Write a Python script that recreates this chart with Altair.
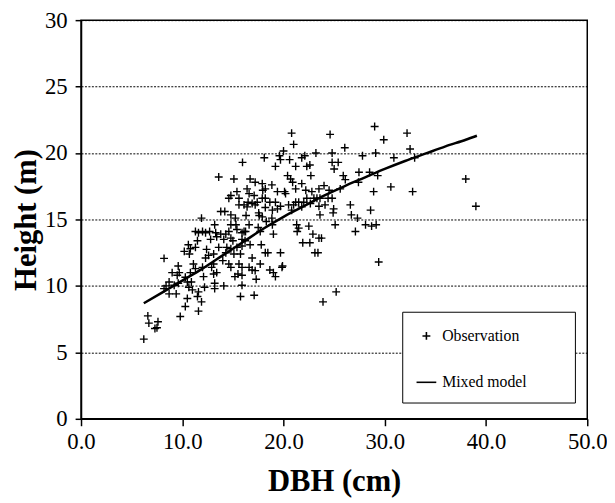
import altair as alt
import pandas as pd

# ---------------- data ----------------
obs_dbh = [
    6.2, 6.6, 6.7, 7.3, 7.6, 7.5, 8.2, 8.4, 8.7, 9.0, 9.5, 9.6, 9.4, 9.8, 9.6, 10.2, 10.3, 10.5, 10.6, 10.7,
    10.9, 10.8, 11.1, 11.3, 11.5, 11.5, 11.6, 11.9, 11.9, 12.0, 12.1, 12.2, 12.3, 12.4, 12.7, 12.9, 13.1, 13.2, 13.2, 13.4,
    13.2, 13.6, 13.8, 13.6, 14.0, 14.1, 14.2, 14.3, 14.4, 14.6, 14.6, 14.8, 14.8, 15.0, 15.1, 15.2, 15.1, 15.25, 15.4, 15.5,
    15.6, 15.75, 15.75, 15.9, 15.95, 16.1, 16.25, 16.3, 16.4, 16.5, 16.7, 16.7, 16.9, 16.9, 17.1, 17.1, 17.2, 17.3, 17.5, 17.6,
    17.7, 17.8, 17.95, 18.1, 18.2, 18.3, 18.45, 18.65, 18.65, 18.85, 18.85, 19.0, 19.2, 19.2, 19.4, 19.4, 19.6, 19.7, 19.9, 20.0,
    20.1, 20.4, 20.6, 20.8, 20.9, 21.0, 21.2, 21.3, 21.35, 21.5, 21.8, 21.9, 22.0, 22.1, 22.3, 22.5, 22.6, 22.7, 22.8, 22.9,
    23.1, 23.2, 23.3, 23.5, 23.6, 23.75, 23.9, 24.0, 24.4, 24.6, 24.8, 24.9, 25.0, 25.1, 25.2, 25.4, 25.6, 25.9, 26.05, 26.6,
    26.7, 27.1, 27.3, 27.45, 27.8, 28.1, 28.5, 28.6, 28.9, 29.0, 29.1, 29.15, 29.3, 29.4, 29.9, 30.6, 30.9, 32.2, 32.5, 32.75,
    32.95, 38.0, 39.0,
    14.8, 14.8, 15.3,
    19.7, 21.8, 22.6, 24.8, 20.7, 16.6, 17.9, 18.2, 21.2, 20.2, 22.2, 24.5, 22.3, 23.0, 23.6, 24.8, 15.6, 17.4,
    17.9, 19.2, 21.2, 17.2, 18.2, 18.9, 19.7, 20.5, 20.8, 23.5, 24.1, 24.95,
    15.4, 11.6, 12.3, 13.3, 13.8, 15.9, 12.8, 14.1, 14.8, 10.8, 11.3, 12.6, 14.3, 14.8, 15.4, 15.9, 16.2, 9.7, 11.3, 12.0,
    13.1, 13.4, 13.1, 14.6, 15.6, 8.7, 9.2, 8.2, 10.3, 10.5, 10.65, 11.0, 11.6, 15.9,
    16.4, 16.9, 21.0, 21.8, 22.65, 17.55, 17.9, 18.9, 16.6, 16.1, 15.9, 17.7, 21.5, 23.5, 23.4, 18.2, 19.85, 16.6, 17.2, 15.9,
    19.0, 28.7, 26.1, 27.4,
]
obs_height = [
    6.0, 7.75, 7.2, 6.8, 7.3, 6.85, 12.07, 10.0, 9.4, 11.0, 10.8, 11.5, 9.4, 7.7, 10.2, 12.6, 8.45, 9.05, 13.1, 12.4,
    10.3, 11.0, 11.65, 14.1, 13.4, 9.2, 8.1, 8.8, 15.1, 14.1, 10.7, 9.9, 12.1, 12.75, 14.1, 11.4, 12.4, 10.2, 9.8, 13.7,
    14.6, 18.2, 15.6, 12.9, 11.9, 10.0, 15.6, 13.9, 12.9, 14.1, 16.6, 16.8, 11.4, 13.4, 18.05, 10.7, 12.4, 15.1, 17.1, 10.9,
    16.1, 9.2, 12.4, 11.4, 19.3, 16.1, 14.1, 15.3, 17.3, 16.3, 13.1, 18.05, 12.1, 11.2, 9.3, 16.8, 17.8, 10.5, 14.4, 15.3,
    11.65, 13.1, 17.2, 19.65, 16.6, 14.85, 12.5, 16.3, 11.2, 15.1, 17.6, 13.9, 19.0, 10.7, 17.1, 15.8, 19.8, 12.5, 11.5, 20.15,
    17.1, 18.3, 19.5, 21.5, 17.8, 20.65, 19.0, 14.6, 14.1, 16.3, 17.7, 13.25, 16.3, 19.8, 19.0, 14.5, 13.25, 18.3, 17.1, 13.9,
    12.5, 20.0, 16.6, 17.3, 15.35, 13.6, 8.8, 17.55, 16.6, 21.4, 20.0, 15.5, 18.8, 14.6, 9.55, 19.3, 17.3, 18.3, 20.4, 16.1,
    15.35, 14.1, 15.1, 18.55, 19.8, 14.6, 18.55, 15.7, 17.1, 22.0, 20.0, 14.6, 18.3, 11.8, 21.0, 17.45, 19.65, 21.5, 20.3, 17.1,
    19.65, 18.05, 16.0,
    15.35, 14.6, 14.6,
    19.5, 19.65, 19.1, 19.3, 18.05, 16.95, 17.7, 17.3, 17.3, 16.95, 17.2, 17.2, 16.6, 16.6, 16.6, 16.6, 16.6, 16.3,
    16.6, 16.3, 16.3, 16.1, 15.9, 15.7, 16.0, 16.1, 15.7, 16.0, 16.1, 15.8,
    14.25, 14.0, 14.0, 14.0, 13.9, 14.0, 13.5, 13.5, 13.6, 12.8, 12.9, 12.3, 12.5, 12.8, 12.9, 13.0, 13.4, 11.0, 11.3, 11.4,
    11.65, 11.0, 10.9, 11.65, 11.65, 10.3, 10.05, 9.8, 10.65, 10.3, 9.9, 9.7, 9.55, 10.05,
    15.95, 16.2, 16.1, 15.95, 16.2, 15.5, 15.2, 14.6, 14.6, 14.1, 13.5, 14.1, 14.35, 13.6, 12.5, 12.5, 11.4, 11.4, 11.15, 10.8,
    11.0, 14.5, 18.0, 17.8,
]
fit_dbh = [6.2, 8, 10, 12, 14, 16, 18, 20, 22, 24, 26, 28, 30, 32, 34, 36, 38, 39.1]
fit_height = [8.7, 9.5, 10.4, 11.3, 12.3, 13.3, 14.3, 15.2, 16.0, 16.8, 17.5, 18.15, 18.8, 19.4, 19.95, 20.5, 21.0, 21.3]
series_names = ["Observation", "Mixed model"]
x_ticks = [0, 10, 20, 30, 40, 50]
y_ticks = [0, 5, 10, 15, 20, 25, 30]

obs = pd.DataFrame({"DBH": obs_dbh, "Height": obs_height})
obs["series"] = series_names[0]
fit = pd.DataFrame({"DBH": fit_dbh, "Height": fit_height})

SERIF = "Times New Roman, Liberation Serif, Times, serif"
CROSS = "M-1,0L1,0M0,-1L0,1"
DASH = "M-2.5,0L2.5,0"

x_enc = alt.X(
    "DBH:Q",
    scale=alt.Scale(domain=[0, 50], nice=False, zero=False),
    axis=alt.Axis(
        values=x_ticks, format=".1f", title="DBH (cm)", grid=False,
        tickSize=7, labelFontSize=23, labelBaseline="alphabetic", labelPadding=23,
        labelFlush=False, titleFontSize=31, titleFontWeight="bold",
        titleBaseline="alphabetic", titleY=73,
    ),
)
y_enc = alt.Y(
    "Height:Q",
    scale=alt.Scale(domain=[0, 30], nice=False),
    axis=alt.Axis(
        values=y_ticks, title="Height (m)", grid=True, gridDash=[2, 1.5],
        gridColor="black", gridWidth=1, tickSize=6, labelFontSize=23,
        labelPadding=8, labelFlush=False, titleFontSize=31,
        titleFontWeight="bold", titleX=-55, titleBaseline="middle",
    ),
)

legend_box = alt.Chart(alt.Data(values=[{}])).mark_rect(
    fill="white", stroke="black", strokeWidth=1
).encode(x=alt.value(326), x2=alt.value(501), y=alt.value(296), y2=alt.value(388))

points = alt.Chart(obs).mark_point(
    filled=False, size=64, strokeWidth=1.4, opacity=1, color="black"
).encode(
    x=x_enc,
    y=y_enc,
    shape=alt.Shape(
        "series:N",
        scale=alt.Scale(domain=series_names, range=[CROSS, DASH]),
        legend=alt.Legend(
            orient="none", legendX=342, legendY=312, title=None,
            labelFont=SERIF, labelFontSize=16, labelColor="black",
            symbolStrokeColor="black", symbolStrokeWidth=1.6, symbolSize=64,
            labelOffset=8, rowPadding=31, padding=0,
        ),
    ),
)

curve = alt.Chart(fit).mark_line(
    color="black", strokeWidth=2.5, interpolate="monotone"
).encode(x="DBH:Q", y="Height:Q")

chart = (
    alt.layer(legend_box, points, curve)
    .properties(
        width=513, height=404, autosize="none",
        padding={"left": 74, "top": 9, "right": 20, "bottom": 82},
    )
    .configure(font=SERIF)
    .configure_view(stroke="black", strokeWidth=1.5)
    .configure_axis(
        domainColor="black", domainWidth=1.5, tickColor="black", tickWidth=1.5,
        labelColor="black", titleColor="black", labelFont=SERIF, titleFont=SERIF,
    )
    .configure_legend(labelFont=SERIF)
)

chart.save("out.html", embed_options={"renderer": "svg", "actions": False})
